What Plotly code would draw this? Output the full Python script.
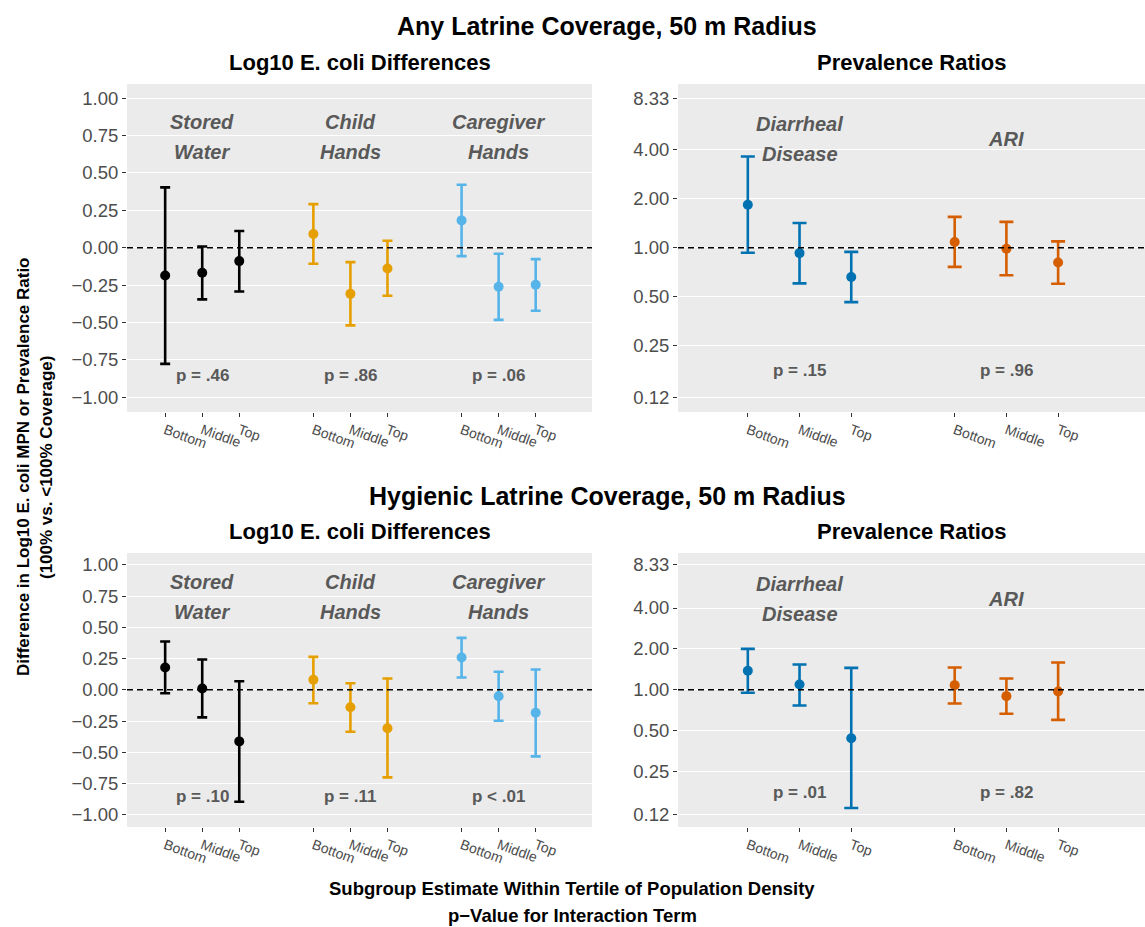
import numpy as np
import plotly.graph_objects as go

W, H = 1145, 927

tertiles = ["Bottom", "Middle", "Top"]
ecoli_outcomes = ["Stored\nWater", "Child\nHands", "Caregiver\nHands"]
pr_outcomes = ["Diarrheal\nDisease", "ARI"]
ecoli_colors = ["#000000", "#E69F00", "#56B4E9"]
pr_colors = ["#0072B2", "#D55E00"]

# Any latrine coverage - log10 E. coli differences (rows = outcome, cols = tertile)
any_ecoli_est = [[-0.185, -0.167, -0.089], [0.092, -0.308, -0.138], [0.183, -0.261, -0.247]]
any_ecoli_lo = [[-0.776, -0.345, -0.292], [-0.107, -0.519, -0.321], [-0.056, -0.482, -0.421]]
any_ecoli_hi = [[0.404, 0.009, 0.112], [0.292, -0.096, 0.047], [0.421, -0.040, -0.076]]
any_ecoli_p = ["p = .46", "p = .86", "p = .06"]

# Any latrine coverage - prevalence ratios
any_pr_est = [[1.84, 0.927, 0.661], [1.084, 0.986, 0.811]]
any_pr_lo = [[0.931, 0.604, 0.463], [0.763, 0.677, 0.601]]
any_pr_hi = [[3.64, 1.42, 0.944], [1.549, 1.442, 1.094]]
any_pr_p = ["p = .15", "p = .96"]

# Hygienic latrine coverage - log10 E. coli differences
hyg_ecoli_est = [[0.179, 0.011, -0.413], [0.080, -0.139, -0.307], [0.259, -0.051, -0.184]]
hyg_ecoli_lo = [[-0.027, -0.221, -0.896], [-0.107, -0.336, -0.701], [0.099, -0.248, -0.533]]
hyg_ecoli_hi = [[0.387, 0.243, 0.069], [0.264, 0.053, 0.091], [0.416, 0.144, 0.163]]
hyg_ecoli_p = ["p = .10", "p = .11", "p < .01"]

# Hygienic latrine coverage - prevalence ratios
hyg_pr_est = [[1.38, 1.095, 0.44], [1.082, 0.898, 0.972]]
hyg_pr_lo = [[0.95, 0.767, 0.135], [0.793, 0.666, 0.601]]
hyg_pr_hi = [[2.00, 1.537, 1.45], [1.46, 1.212, 1.59]]
hyg_pr_p = ["p = .01", "p = .82"]

ecoli_ticks = [-1.00, -0.75, -0.50, -0.25, 0.00, 0.25, 0.50, 0.75, 1.00]
pr_ticks = [0.12, 0.25, 0.50, 1.00, 2.00, 4.00, 8.33]

row_titles = ["Any Latrine Coverage, 50 m Radius", "Hygienic Latrine Coverage, 50 m Radius"]
panel_titles = ["Log10 E. coli Differences", "Prevalence Ratios"]
y_title_lines = ["Difference in Log10 E. coli MPN or Prevalence Ratio", "(100% vs. <100% Coverage)"]
x_title_lines = ["Subgroup Estimate Within Tertile of Population Density", "p\u2212Value for Interaction Term"]

FONT = "Liberation Sans, Arial, sans-serif"
TICK_COLOR = "#4D4D4D"
LABEL_COLOR = "#595959"


def px_x(v):
    return v / W


def px_y(v):
    return 1 - v / H


fig = go.Figure()

# panel boxes in pixels: (left, right, top, bottom)
panels = [
    (127, 592, 84, 412),
    (678, 1145, 84, 412),
    (127, 592, 553, 827),
    (678, 1145, 553, 827),
]

panel_data = [
    ("ecoli", ecoli_outcomes, ecoli_colors, any_ecoli_est, any_ecoli_lo, any_ecoli_hi, any_ecoli_p),
    ("pr", pr_outcomes, pr_colors, any_pr_est, any_pr_lo, any_pr_hi, any_pr_p),
    ("ecoli", ecoli_outcomes, ecoli_colors, hyg_ecoli_est, hyg_ecoli_lo, hyg_ecoli_hi, hyg_ecoli_p),
    ("pr", pr_outcomes, pr_colors, hyg_pr_est, hyg_pr_lo, hyg_pr_hi, hyg_pr_p),
]

annotations = []
shapes = []

for i, (kind, outcomes, colors, est, lo, hi, pvals) in enumerate(panel_data):
    n = i + 1
    xa = "x" if n == 1 else f"x{n}"
    ya = "y" if n == 1 else f"y{n}"
    left, right, top, bottom = panels[i]

    tickvals = []
    ticktext = []
    for g, outcome in enumerate(outcomes):
        xs = [1 + 4 * g + t for t in range(len(tertiles))]
        tickvals += xs
        ticktext += tertiles
        e = np.array(est[g])
        fig.add_trace(
            go.Scatter(
                x=xs,
                y=e,
                mode="markers",
                marker=dict(size=10, color=colors[g]),
                error_y=dict(
                    type="data",
                    symmetric=False,
                    array=np.array(hi[g]) - e,
                    arrayminus=e - np.array(lo[g]),
                    color=colors[g],
                    thickness=2.6,
                    width=5 if kind == "ecoli" else 7,
                ),
                xaxis=xa,
                yaxis=ya,
                showlegend=False,
            )
        )

        # outcome label (two lines, spaced like the original)
        lines = outcome.split("\n")
        label_y = 0.742 if kind == "ecoli" else 0.668
        for k, line in enumerate(lines):
            shift = 0 if len(lines) == 1 else (15 if k == 0 else -15)
            annotations.append(dict(
                x=2 + 4 * g, y=label_y, xref=xa, yref=ya,
                text=f"<b><i>{line}</i></b>", showarrow=False,
                yshift=shift, xanchor="center", yanchor="middle",
                font=dict(family=FONT, size=20, color=LABEL_COLOR),
            ))

        p_y = -0.857 if kind == "ecoli" else -0.753
        annotations.append(dict(
            x=2 + 4 * g, y=p_y, xref=xa, yref=ya,
            text=f"<b>{pvals[g]}</b>", showarrow=False,
            xanchor="center", yanchor="middle",
            font=dict(family=FONT, size=17, color=LABEL_COLOR),
        ))

    if kind == "ecoli":
        xrange = [-0.03, 12.52]
        yaxis = dict(
            range=[-1.098, 1.095],
            tickvals=ecoli_ticks,
            ticktext=[f"{v:.2f}".replace("-", "\u2212") for v in ecoli_ticks],
        )
        ref = 0
    else:
        xrange = [-0.35, 8.68]
        yaxis = dict(
            type="log",
            range=[-1.01, 1.007],
            tickvals=pr_ticks,
            ticktext=[f"{v:.2f}" for v in pr_ticks],
        )
        ref = 1

    fig.layout[f"xaxis{'' if n == 1 else n}"] = dict(
        domain=[px_x(left), px_x(right)],
        anchor=ya,
        range=xrange,
        tickvals=tickvals,
        ticktext=ticktext,
        tickangle=20,
        showgrid=False,
        zeroline=False,
        automargin=False,
        ticks="outside",
        ticklen=4,
        tickwidth=1.1,
        tickcolor="#333333",
        tickfont=dict(family=FONT, size=14, color=TICK_COLOR),
        fixedrange=True,
    )
    yaxis.update(
        domain=[px_y(bottom), px_y(top)],
        anchor=xa,
        showgrid=True,
        gridcolor="white",
        gridwidth=1.2,
        zeroline=False,
        automargin=False,
        ticks="outside",
        ticklen=4,
        tickwidth=1.1,
        tickcolor="#333333",
        tickfont=dict(family=FONT, size=18.5, color=TICK_COLOR),
        fixedrange=True,
    )
    fig.layout[f"yaxis{'' if n == 1 else n}"] = yaxis

    # panel background
    shapes.append(dict(
        type="rect", xref="paper", yref="paper",
        x0=px_x(left), x1=px_x(right), y0=px_y(bottom), y1=px_y(top),
        fillcolor="#EBEBEB", line=dict(width=0), layer="below",
    ))
    # dashed reference line
    shapes.append(dict(
        type="line", xref=f"{xa} domain", yref=ya,
        x0=0, x1=1, y0=ref, y1=ref,
        line=dict(color="black", width=1.6, dash="6px,4px"),
        layer="above",
    ))

# row titles and panel titles
for r, (title, y_title, y_sub) in enumerate(zip(row_titles, [26.5, 495.5], [62.5, 531.5])):
    annotations.append(dict(
        x=px_x(607), y=px_y(y_title), xref="paper", yref="paper",
        text=f"<b>{title}</b>", showarrow=False,
        xanchor="center", yanchor="middle",
        font=dict(family=FONT, size=25, color="black"),
    ))
    for c, sub in enumerate(panel_titles):
        left, right, _, _ = panels[2 * r + c]
        annotations.append(dict(
            x=px_x((left + right) / 2), y=px_y(y_sub), xref="paper", yref="paper",
            text=f"<b>{sub}</b>", showarrow=False,
            xanchor="center", yanchor="middle",
            font=dict(family=FONT, size=22, color="black"),
        ))

# shared axis titles, one line per annotation to get the original spacing
for line, x in zip(y_title_lines, [23, 46]):
    annotations.append(dict(
        x=px_x(x), y=px_y(467), xref="paper", yref="paper",
        text=f"<b>{line}</b>", showarrow=False, textangle=-90,
        xanchor="center", yanchor="middle",
        font=dict(family=FONT, size=17, color="black"),
    ))
for line, y in zip(x_title_lines, [888, 915]):
    annotations.append(dict(
        x=px_x(572), y=px_y(y), xref="paper", yref="paper",
        text=f"<b>{line}</b>", showarrow=False,
        xanchor="center", yanchor="middle",
        font=dict(family=FONT, size=18.5, color="black"),
    ))

fig.update_layout(
    width=W,
    height=H,
    margin=dict(l=0, r=0, t=0, b=0, autoexpand=False),
    paper_bgcolor="white",
    plot_bgcolor="rgba(0,0,0,0)",
    annotations=annotations,
    shapes=shapes,
    showlegend=False,
    font=dict(family=FONT),
)

# the page's default body margin would push the fixed-size figure off the window
fig.write_html(
    "out.html",
    config={"displayModeBar": False},
    post_script="document.body.style.margin='0';document.body.style.overflow='hidden';",
)
